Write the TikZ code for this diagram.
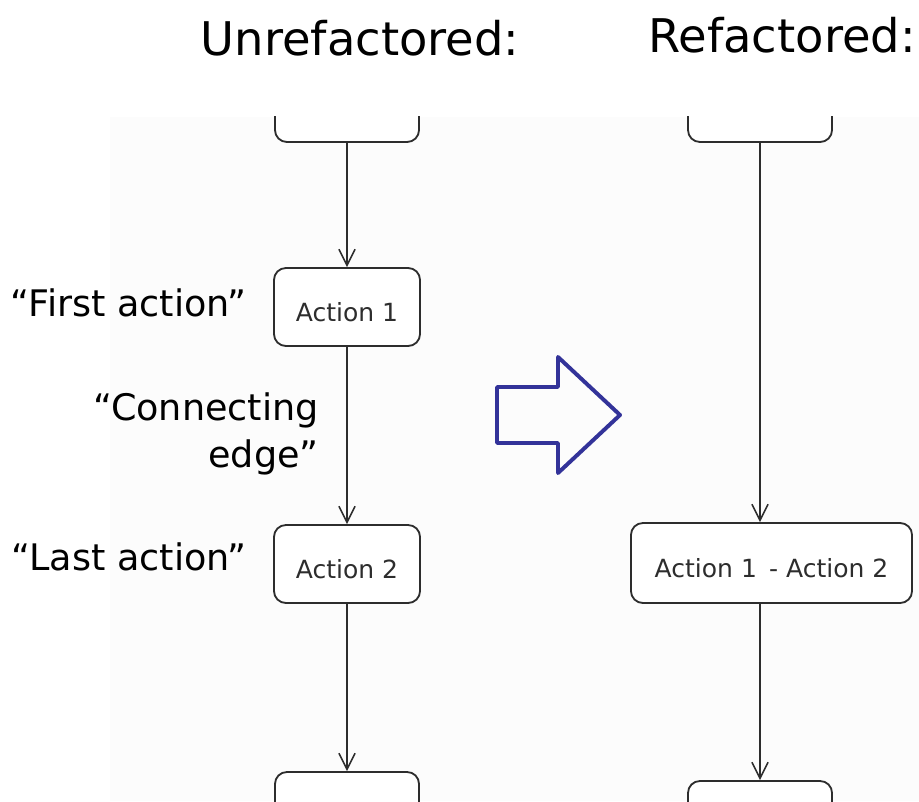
\documentclass[tikz,border=0pt]{standalone}
\usepackage{fontspec}
\setmainfont{DejaVu Sans}
\usetikzlibrary{arrows.meta}

\definecolor{arrowblue}{RGB}{51,51,153}
\definecolor{linegray}{RGB}{45,45,45}
\definecolor{bggray}{RGB}{252,252,252}

\tikzset{
  actbox/.style={shape=rectangle, draw=linegray, line width=1.3pt, rounded corners=8.5pt, fill=white, text=linegray, text height=20pt, text depth=0pt, font=\fontsize{17.8}{20}\selectfont},
  flow/.style={draw=linegray, line width=1.1pt, -{Straight Barb[length=11.5pt, width=11.5pt]}},
  note/.style={shape=rectangle, draw=none, font=\fontsize{26}{34}\selectfont}
}

\begin{document}
\begin{tikzpicture}[x=0.025cm, y=-0.025cm, thick]
%%%%%%%%%%%%%%%%%%%%%%%%%%%%%%%%%%%%%%%%%%% HELP LINES
%\draw[help lines] (0,0) grid +(10,10);
\useasboundingbox (0,0) rectangle (919,801);
\fill[bggray] (110,117) rectangle (919,801);

%%%%%%%%%%%%%%%%%%%%%%%%%%%%%%%%%%%%%%%%%%% headings
\node[shape=rectangle, draw=none, font=\fontsize{33}{38}\selectfont](unref) at (360,38) {Unrefactored:};
\node[shape=rectangle, draw=none, font=\fontsize{33}{38}\selectfont](ref) at (782,35) {Refactored:};

%%%%%%%%%%%%%%%%%%%%%%%%%%%%%%%%%%%%%%%%%%% activity diagrams
\begin{scope}
\clip (110,117) rectangle (919,801);

%%%%% unrefactored
\node[actbox, minimum width=3.6cm, minimum height=1.95cm](ltop) at (347,103) {};
\node[actbox, minimum width=3.65cm, minimum height=1.95cm](act1) at (347,307) {Action 1};
\node[actbox, minimum width=3.65cm, minimum height=1.95cm](act2) at (347,564) {Action 2};
\node[actbox, minimum width=3.6cm, minimum height=1.95cm](lbot) at (347,811) {};

\draw[flow] (ltop) -- (act1);
\draw[flow] (act1) -- (act2);
\draw[flow] (act2) -- (lbot);

%%%%% refactored
\node[actbox, minimum width=3.6cm, minimum height=1.95cm](rtop) at (760,103) {};
\node[actbox, minimum width=7.025cm, minimum height=2cm](merged) at (771.5,563) {Action 1 \,- Action 2};
\node[actbox, minimum width=3.6cm, minimum height=1.95cm](rbot) at (760,820) {};

\draw[flow] (rtop.south) -- (rtop.south |- merged.north);
\draw[flow] (rtop.south |- merged.south) -- (rbot);
\end{scope}

%%%%% labels
\node[note, anchor=east](first) at (252,303) {“First action”};
\node[note, anchor=east, align=right](edge) at (324,434) {“Connecting\\edge”};
\node[note, anchor=east](last) at (252,557) {“Last action”};

%%%%%%%%%%%%%%%%%%%%%%%%%%%%%%%%%%%%%%%%%%% refactoring arrow
\draw[arrowblue, line width=2.8pt, line join=round] (497,387) -- (558,387) -- (558,357) -- (620,415) -- (558,473) -- (558,443) -- (497,443) -- cycle;
\end{tikzpicture}
\end{document}
